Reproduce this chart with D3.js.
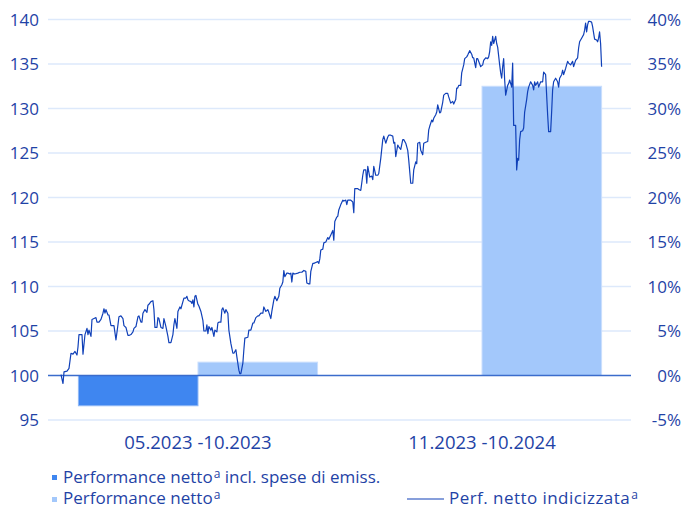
<!DOCTYPE html>
<html>
<head>
<meta charset="utf-8">
<script src="https://cdn.jsdelivr.net/npm/d3@7"></script>
<style>
  body { margin: 0; background: #fff; }
  text { font-family: "Open Sans", "Noto Sans", sans-serif; fill: #1f43a6; }
</style>
</head>
<body>
<svg width="684" height="509"></svg>
<script>
// categories and bar values (percent)
const categories = ['05.2023 -10.2023', '11.2023 -10.2024'];
const perfInclFees = [-3.4, null];
const perfNet = [1.5, 32.5];

const leftTicks = [95, 100, 105, 110, 115, 120, 125, 130, 135, 140];
const rightTicks = [-5, 0, 5, 10, 15, 20, 25, 30, 35, 40];

// indexed performance line: calendar day offset from start, value
const lineDays = [0,2,3,6,8,10,12,14,16,17,18,20,21,22,24,26,27,28,30,31,33,35,36,38,40,42,43,44,45,47,48,50,52,53,55,57,58,60,62,63,65,67,68,70,72,73,75,77,78,80,81,82,84,86,87,88,90,92,93,94,96,97,98,100,102,103,105,107,108,110,112,113,114,116,117,119,120,122,123,125,126,127,128,130,131,132,133,134,135,137,138,140,142,143,145,
  146,147,148,150,151,152,153,154,156,157,158,160,161,162,164,165,167,168,170,172,173,175,176,178,179,180,182,183,184,187,188,190,192,193,195,197,198,200,202,203,205,207,208,210,211,213,214,216,218,219,221,222,223,224,226,227,229,230,231,232,234,237,239,241,243,245,246,248,249,250,252,253,255,257,258,259,260,262,263,265,267,268,270,272,273,
  274,276,277,278,280,282,283,285,286,287,290,292,293,294,297,298,300,302,303,305,306,307,309,311,312,313,315,317,318,320,322,323,325,327,328,330,332,333,334,335,337,338,340,342,343,345,347,348,350,352,353,355,356,357,359,360,362,363,365,367,368,369,371,372,373,375,376,377,379,
  380,382,383,385,387,388,390,392,393,395,396,397,398,400,401,403,404,406,407,409,411,412,413,415,416,417,419,420,422,423,425,427,428,429,430,431,432,433,434,435,436,437,439,440,441,442,443,444,445,447,448,449,451,452,453,455,456,457,458,459,460,462,463,464,466,467,468,470,472,473,474,475,477,478,480,482,483,485,486,487,488,490,491,492,493,495,497,498,499,501,502,503,505,507,508,510,512,513,515,517,518,519,521,523,524,525,526,527,528,529,531,532,533,534,536,537,538,539,540,541];
const lineValues = [100.1,99.1,100.4,100.5,100.8,102.5,102.4,102.7,102.3,103.2,104.6,104.6,104.6,102.4,104.6,105.3,104.6,105.1,104.4,106.3,106.4,106.5,106.0,106.0,106.3,107.0,107.5,107.0,107.4,106.8,106.8,105.6,105.6,105.6,104.0,105.7,106.6,106.7,106.4,105.6,105.4,104.5,104.5,104.6,104.9,105.3,105.5,106.6,106.7,106.0,106.0,107.0,107.4,107.1,107.9,108.0,108.3,108.4,107.4,105.4,105.4,106.5,106.4,105.4,105.3,106.4,105.5,104.4,103.7,103.7,104.6,105.7,106.4,105.3,107.2,107.7,107.5,108.3,108.7,108.7,108.9,108.5,108.4,108.3,108.1,108.5,107.7,108.9,109.0,108.0,107.8,107.2,106.2,105.0,105.0,
  105.7,104.7,105.5,105.1,105.4,104.9,104.4,105.1,104.9,105.9,106.0,106.0,107.4,107.6,107.0,107.4,107.0,105.1,103.6,102.5,102.5,102.9,102.1,100.6,100.2,100.2,101.4,102.9,104.2,104.3,105.1,105.1,105.9,105.9,106.5,106.7,106.7,107.0,107.0,107.7,107.2,107.4,107.1,106.4,107.2,108.5,108.9,108.4,108.9,109.8,110.2,110.5,111.8,111.1,111.5,111.5,111.4,111.5,110.5,111.5,111.4,111.5,111.6,111.6,111.8,111.7,110.4,110.3,110.3,111.7,112.6,112.6,112.7,112.8,112.6,113.1,114.1,114.2,114.9,115.0,115.5,115.3,115.8,116.3,115.2,
  117.3,117.8,117.9,118.6,119.2,119.7,119.6,119.7,119.2,119.7,119.7,119.5,118.3,121.0,121.0,120.9,120.8,122.5,123.1,123.1,121.6,123.5,122.3,122.4,122.0,123.5,122.5,122.5,122.7,124.4,126.5,126.9,126.1,126.8,127.0,127.0,126.9,126.1,126.2,124.6,125.9,125.7,125.4,126.5,126.5,126.1,125.3,124.2,121.6,121.6,123.1,124.0,123.8,126.1,126.2,125.3,124.8,126.1,126.2,126.3,127.6,128.0,128.7,128.5,128.9,129.3,129.6,130.4,129.5,
  129.6,130.7,131.5,131.7,131.7,131.3,130.6,130.8,130.5,131.0,132.3,132.3,132.6,132.6,134.0,134.9,135.6,135.8,136.0,136.5,136.1,135.7,135.7,134.6,135.6,135.6,135.0,134.7,134.9,135.4,135.7,135.6,135.8,136.4,137.5,137.1,138.1,137.3,137.7,138.1,137.3,136.9,134.9,134.0,133.4,134.7,135.6,133.2,131.5,132.6,132.8,133.2,132.4,135.1,128.1,128.1,123.1,124.4,124.2,126.5,127.4,127.5,127.8,129.6,131.0,131.9,132.4,133.0,132.6,132.1,133.0,132.6,133.0,132.4,133.0,133.0,134.1,133.8,131.5,129.3,127.4,127.4,129.6,132.1,133.0,133.4,133.0,132.4,133.4,133.8,134.3,133.8,134.5,135.3,135.1,134.9,135.3,134.7,135.4,135.7,136.8,137.5,137.9,138.3,138.8,139.6,138.6,139.4,139.8,139.8,139.7,139.2,138.5,137.8,137.7,137.5,137.9,138.6,137.3,134.7];

const svg = d3.select('svg');
const W = +svg.attr('width');
const margin = { top: 19.5, left: 50, bottom: 89, right: 54 };
const plotBottom = 420;

const darkBlue = '#3f86f0';
const lightBlue = '#a3c8fb';
const lineBlue = '#1040b8';

const yLeft = d3.scaleLinear().domain([95, 140]).range([plotBottom, margin.top]);
const yRight = d3.scaleLinear().domain([-5, 40]).range([plotBottom, margin.top]);

const x0 = d3.scaleBand().domain(categories)
  .range([margin.left, W - margin.right])
  .paddingInner(0.158).paddingOuter(0.1);
const x1 = d3.scaleBand().domain(['incl', 'net']).range([0, x0.bandwidth()]);

// gridlines
svg.append('g').selectAll('line')
  .data(leftTicks.filter(d => d !== 100))
  .enter().append('line')
  .attr('x1', 48).attr('x2', 631)
  .attr('y1', d => yLeft(d)).attr('y2', d => yLeft(d))
  .attr('stroke', '#dde9fb').attr('stroke-width', 1.5);

// left axis labels
svg.append('g').selectAll('text')
  .data(leftTicks).enter().append('text')
  .attr('x', 39).attr('y', d => yLeft(d)).attr('dy', '0.36em')
  .attr('text-anchor', 'end').style('font-size', '17px')
  .text(d => d);

// right axis labels
svg.append('g').selectAll('text')
  .data(rightTicks).enter().append('text')
  .attr('x', 681).attr('y', d => yRight(d)).attr('dy', '0.36em')
  .attr('text-anchor', 'end').style('font-size', '17px')
  .text(d => d + '%');

// bars
const barData = [];
categories.forEach((c, i) => {
  barData.push({ cat: c, key: 'incl', v: perfInclFees[i], color: darkBlue });
  barData.push({ cat: c, key: 'net', v: perfNet[i], color: lightBlue });
});
svg.append('g').selectAll('rect')
  .data(barData.filter(d => d.v != null))
  .enter().append('rect')
  .attr('x', d => x0(d.cat) + x1(d.key))
  .attr('width', x1.bandwidth())
  .attr('y', d => yRight(Math.max(0, d.v)))
  .attr('height', d => Math.abs(yRight(d.v) - yRight(0)))
  .attr('fill', d => d.color)
  .attr('stroke', d => d.key === 'net' ? '#c9defd' : '#8fb8f6')
  .attr('stroke-width', 1);

// zero line
svg.append('line')
  .attr('x1', 48).attr('x2', 631)
  .attr('y1', yRight(0)).attr('y2', yRight(0))
  .attr('stroke', '#3b6ccc').attr('stroke-width', 1.5);

// indexed line
const xLine = d3.scaleLinear()
  .domain([0, d3.max(lineDays)])
  .range([61, x0(categories[1]) + x0.bandwidth()]);
const lineGen = d3.line()
  .x((d, i) => xLine(lineDays[i]))
  .y(d => yLeft(d));
svg.append('path')
  .datum(lineValues)
  .attr('d', lineGen)
  .attr('fill', 'none')
  .attr('stroke', lineBlue)
  .attr('stroke-width', 1.2)
  .attr('stroke-linejoin', 'round');

// category labels
svg.append('g').selectAll('text')
  .data(categories).enter().append('text')
  .attr('x', d => x0(d) + x0.bandwidth() / 2)
  .attr('y', 449)
  .attr('text-anchor', 'middle').style('font-size', '18.5px')
  .text(d => d);

// legend
const legend = svg.append('g').style('font-size', '17px');
const addLabel = (x, y, main, after) => {
  const t = legend.append('text').attr('x', x).attr('y', y);
  t.append('tspan').text(main);
  t.append('tspan').attr('dx', 1).attr('dy', -5).style('font-size', '12px').text('a');
  if (after) t.append('tspan').attr('dy', 5).text(after);
  return t;
};
legend.append('rect').attr('x', 52).attr('y', 475).attr('width', 5).attr('height', 5).attr('fill', darkBlue);
addLabel(63, 483, 'Performance netto', ' incl. spese di emiss.');
legend.append('rect').attr('x', 52).attr('y', 497).attr('width', 5).attr('height', 5).attr('fill', lightBlue);
addLabel(63, 504, 'Performance netto');
legend.append('line').attr('x1', 407).attr('x2', 444).attr('y1', 499).attr('y2', 499)
  .attr('stroke', lineBlue).attr('stroke-width', 1.2);
addLabel(449, 504, 'Perf. netto indicizzata').style('letter-spacing', '0.45px');
</script>
</body>
</html>
